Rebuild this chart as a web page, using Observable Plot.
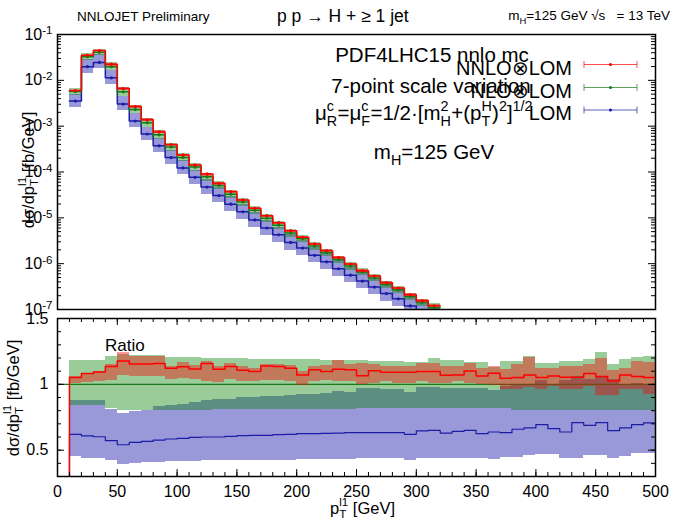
<!DOCTYPE html>
<html>
<head>
<meta charset="utf-8">
<script src="https://cdn.jsdelivr.net/npm/d3@7"></script>
<script src="https://cdn.jsdelivr.net/npm/@observablehq/plot@0.6"></script>
<style>
  body { margin: 0; background: #fff; font-family: "Liberation Sans", Arial, sans-serif; }
  #fig { position: relative; width: 675px; height: 525px; overflow: hidden; }
  #fig > svg { position: absolute; left: 0; }
  .t { position: absolute; white-space: nowrap; color: #000; line-height: 1; }
  .t sub { font-size: .7em; vertical-align: -0.4em; line-height: 0; }
  .t sup { font-size: .7em; vertical-align: 0.6em; line-height: 0; }
  .ss { display: inline-block; position: relative; height: 0; }
  .ss > span { position: absolute; left: 0; font-size: .7em; line-height: 1; }
  .ss > .u { bottom: 0.45em; }
  .ss > .d { bottom: -0.58em; }
</style>
</head>
<body>
<div id="fig"></div>
<script>
// Lower edges of the leading-jet pT bins, GeV (each bin is 10 GeV wide)
const binLow = [0, 10, 20, 30, 40, 50, 60, 70, 80, 90, 100, 110, 120, 130, 140, 150, 160, 170, 180, 190,
  200, 210, 220, 230, 240, 250, 260, 270, 280, 290, 300, 310, 320, 330, 340, 350, 360, 370, 380, 390,
  400, 410, 420, 430, 440, 450, 460, 470, 480, 490];
const binWidth = 10;

// NLO⊗LOM central dσ/dpT [fb/GeV] (first bin empty)
const nlo = [null, 5.69e-3, 3.27e-2, 4.09e-2, 1.98e-2, 5.62e-3, 2.32e-3, 1.19e-3, 6.47e-4, 3.53e-4,
  2.08e-4, 1.28e-4, 7.83e-5, 5.09e-5, 3.29e-5, 2.22e-5, 1.47e-5, 9.8e-6, 6.92e-6, 4.68e-6,
  3.51e-6, 2.43e-6, 1.75e-6, 1.23e-6, 8.87e-7, 6.59e-7, 4.88e-7, 3.52e-7, 2.70e-7, 1.93e-7,
  1.42e-7, 1.10e-7];

// Ratios to NLO⊗LOM central: NNLO⊗LOM central and 7-point scale envelope
const rNNLO = [0, 1.051, 1.082, 1.094, 1.135, 1.178, 1.155, 1.155, 1.158, 1.122, 1.133, 1.117, 1.158, 1.115,
  1.135, 1.107, 1.097, 1.14, 1.135, 1.122, 1.071, 1.11, 1.097, 1.115, 1.11, 1.066, 1.104, 1.092, 1.092,
  1.092, 1.097, 1.097, 1.069, 1.071, 1.102, 1.064, 1.084, 1.046, 1.051, 1.071, 1.051, 1.064, 1.054,
  1.054, 1.082, 1.059, 1.025, 1.071, 1.059, 1.051];
const rNNLOLo = [null, 1.008, 1.013, 1.02, 1.031, 1.064, 1.059, 1.059, 1.059, 1.033, 1.041, 1.033, 1.025,
  1.013, 1.033, 1.02, 1.02, 1.031, 1.031, 1.025, 0.99, 1.02, 1.031, 1.02, 1.025, 0.995, 1.008, 1.02,
  1.008, 1.008, 1.02, 1.008, 1.008, 1.02, 1.008, 0.995, 0.99, 0.957, 0.964, 0.975, 0.957, 0.982, 0.964,
  0.957, 0.982, 0.918, 0.913, 0.957, 0.957, 0.924];
const rNNLOHi = [null, 1.059, 1.085, 1.097, 1.153, 1.24, 1.214, 1.214, 1.214, 1.135, 1.166, 1.143, 1.173,
  1.135, 1.16, 1.135, 1.122, 1.153, 1.148, 1.143, 1.097, 1.135, 1.143, 1.178, 1.153, 1.16, 1.148, 1.135,
  1.135, 1.135, 1.16, 1.16, 1.135, 1.135, 1.16, 1.122, 1.135, 1.109, 1.148, 1.206, 1.117, 1.122, 1.135,
  1.135, 1.148, 1.199, 1.102, 1.122, 1.173, 1.168];

// NLO⊗LOM scale envelope relative to its own central value
const rNLOLo = [null, 0.837, 0.837, 0.837, 0.817, 0.804, 0.80, 0.80, 0.80, 0.80, 0.80, 0.80, 0.80,
  0.811, 0.811, 0.811, 0.811, 0.811, 0.811, 0.811, 0.811, 0.811, 0.811, 0.811, 0.811,
  0.817, 0.817, 0.817, 0.817, 0.817, 0.817, 0.817, 0.817, 0.817, 0.817, 0.817, 0.817, 0.817,
  0.804, 0.804, 0.804, 0.804, 0.804, 0.804, 0.804, 0.804, 0.804, 0.804, 0.804, 0.804];
const rNLOHi = [null, 1.178, 1.178, 1.178, 1.209, 1.224, 1.219, 1.219, 1.219, 1.205, 1.205, 1.205, 1.2,
  1.2, 1.195, 1.195, 1.19, 1.19, 1.19, 1.185, 1.185, 1.185, 1.18, 1.18, 1.18, 1.178, 1.175, 1.175,
  1.175, 1.168, 1.168, 1.199, 1.178, 1.178, 1.168, 1.168, 1.127, 1.173, 1.173, 1.212, 1.16, 1.16,
  1.173, 1.173, 1.186, 1.242, 1.148, 1.19, 1.204, 1.212];

// LOM central and scale envelope, relative to NLO⊗LOM central
const rLO = [0, 0.620, 0.608, 0.602, 0.572, 0.541, 0.559, 0.567, 0.577, 0.585, 0.59, 0.597, 0.60,
  0.60, 0.605, 0.61, 0.613, 0.613, 0.618, 0.62, 0.625, 0.625, 0.628, 0.63, 0.633,
  0.633, 0.633, 0.633, 0.633, 0.62, 0.646, 0.651, 0.63, 0.643, 0.651, 0.625, 0.638, 0.633,
  0.659, 0.669, 0.694, 0.664, 0.638, 0.709, 0.689, 0.709, 0.648, 0.669, 0.694, 0.707];
const rLOLo = [null, 0.455, 0.44, 0.44, 0.42, 0.393, 0.40, 0.41, 0.41, 0.415, 0.415, 0.416, 0.421,
  0.421, 0.421, 0.421, 0.421, 0.421, 0.421, 0.421, 0.43, 0.43, 0.43, 0.43, 0.43,
  0.434, 0.434, 0.434, 0.434, 0.421, 0.434, 0.434, 0.434, 0.434, 0.434, 0.434, 0.43, 0.447,
  0.447, 0.46, 0.465, 0.465, 0.434, 0.434, 0.46, 0.46, 0.44, 0.455, 0.472, 0.472];
const rLOHi = [null, 0.878, 0.878, 0.878, 0.81, 0.776, 0.796, 0.80, 0.83, 0.84, 0.85, 0.86, 0.875,
  0.888, 0.888, 0.898, 0.898, 0.908, 0.908, 0.915, 0.924, 0.924, 0.931, 0.949, 0.94,
  0.97, 0.97, 0.962, 0.962, 0.939, 0.975, 0.975, 0.97, 0.97, 0.97, 0.97, 0.955, 0.985,
  1.0, 1.0, 1.03, 1.0, 1.03, 1.06, 1.04, 1.06, 1.04, 1.0, 1.01, 1.0];

// Axis tick values
const upperDecades = [1e-7, 1e-6, 1e-5, 1e-4, 1e-3, 1e-2, 1e-1];
const ratioTickLabels = [0.5, 1, 1.5];
const xTickLabels = [0, 50, 100, 150, 200, 250, 300, 350, 400, 450, 500];

// Colours
const red = "#ff0000", green = "#1a7a1a", blue = "#1c1ca6";
const redFill = "#ff0000", greenFill = "#008000", blueFill = "#0000a0";

const W = 675, ML = 57, MR = 20;
const plotW = W - ML - MR;

const rows = binLow.map((x1, i) => ({
  x1, x2: x1 + binWidth, xm: x1 + binWidth / 2,
  rNNLO: rNNLO[i], rNNLOLo: rNNLOLo[i], rNNLOHi: rNNLOHi[i],
  rNLOLo: rNLOLo[i], rNLOHi: rNLOHi[i],
  rLO: rLO[i], rLOLo: rLOLo[i], rLOHi: rLOHi[i],
  nlo: nlo[i] ?? null
}));

// absolute distributions for the upper panel
const up = rows.filter(d => d.nlo != null).map(d => ({
  ...d,
  nnlo: d.nlo * d.rNNLO, nnloLo: d.nlo * d.rNNLOLo, nnloHi: d.nlo * d.rNNLOHi,
  nloLo: d.nlo * d.rNLOLo, nloHi: d.nlo * d.rNLOHi,
  lo: d.nlo * d.rLO, loLo: d.nlo * d.rLOLo, loHi: d.nlo * d.rLOHi
}));
const bands = rows.filter(d => d.rNNLOLo != null);

// histogram outline: one point per bin edge, drawn with a step-after curve
function steps(data, key) {
  const pts = data.map(d => ({x: d.x1, y: d[key]}));
  const last = data[data.length - 1];
  pts.push({x: last.x2, y: last[key]});
  return pts;
}

function inwardTicks(dim, values, len, plotSize) {
  if (dim === "x") return [
    Plot.tickX(values, {x: d => d, insetTop: plotSize - len, stroke: "#000"}),
    Plot.tickX(values, {x: d => d, insetBottom: plotSize - len, stroke: "#000"})
  ];
  return [
    Plot.tickY(values, {y: d => d, insetRight: plotW - len, stroke: "#000"}),
    Plot.tickY(values, {y: d => d, insetLeft: plotW - len, stroke: "#000"})
  ];
}

const band = (data, y1, y2, fill) =>
  Plot.rect(data, {x1: "x1", x2: "x2", y1, y2, fill, fillOpacity: 0.4, shapeRendering: "crispEdges", clip: true});

const style = {fontFamily: "Liberation Sans, Arial, sans-serif", fontSize: "16px", background: "transparent", overflow: "visible", color: "#000"};

// ---- upper panel: absolute distributions ----
const upperH = 312, upperMT = 34, upperMB = 3;
const upperMinor = [];
for (let k = -7; k <= -2; k++) for (let m = 2; m <= 9; m++) upperMinor.push(m * Math.pow(10, k));

const upperSeries = [
  {lo: "loLo", hi: "loHi", c: "lo", stroke: blue, fill: blueFill},
  {lo: "nloLo", hi: "nloHi", c: "nlo", stroke: green, fill: greenFill},
  {lo: "nnloLo", hi: "nnloHi", c: "nnlo", stroke: red, fill: redFill}
];

const upper = Plot.plot({
  width: W, height: upperH,
  marginTop: upperMT, marginBottom: upperMB, marginLeft: ML, marginRight: MR,
  style,
  x: {domain: [0, 500], axis: null},
  y: {type: "log", domain: [1e-7, 1e-1], axis: null},
  marks: [
    ...upperSeries.flatMap(s => [
      band(up, s.lo, s.hi, s.fill),
      Plot.line(steps(up, s.c), {x: "x", y: "y", curve: "step-after", stroke: s.stroke, strokeWidth: 1.5, clip: true}),
      Plot.dot(up, {x: "xm", y: s.c, r: 1.6, fill: s.stroke, stroke: null, clip: true})
    ]),
    Plot.axisY(upperDecades, {tickSize: 0, tickPadding: 5, fontSize: 16,
      tickFormat: d => String(Math.round(Math.log10(d)))}),
    ...inwardTicks("y", upperDecades, 7, 0),
    ...inwardTicks("y", upperMinor, 4, 0),
    Plot.frame({stroke: "#000", strokeWidth: 1.5})
  ]
});
upper.style.top = "0px";

// exponent labels: 10 with a raised power
d3.select(upper).selectAll('g[aria-label="y-axis tick label"] text').each(function () {
  const e = this.textContent;
  const t = d3.select(this);
  t.text("10");
  t.append("tspan").attr("dy", "-0.45em").attr("font-size", "0.72em").text(e);
});

// ---- lower panel: ratio to NLO⊗LOM ----
const lowerTop = 312, lowerH = 213, lowerMT = 6, lowerMB = 49;
const lowerPlotH = lowerH - lowerMT - lowerMB;
const ratioMinor = d3.range(3, 16).map(v => v / 10);
const xMinor = d3.range(0, 501, 10);

const lower = Plot.plot({
  width: W, height: lowerH,
  marginTop: lowerMT, marginBottom: lowerMB, marginLeft: ML, marginRight: MR,
  style,
  x: {domain: [0, 500], axis: null},
  y: {domain: [0.3, 1.5], axis: null},
  marks: [
    band(bands, "rLOLo", "rLOHi", blueFill),
    Plot.line(steps(rows, "rLO"), {x: "x", y: "y", curve: "step-after", stroke: blue, strokeWidth: 1.2, clip: true}),
    band(bands, "rNLOLo", "rNLOHi", greenFill),
    Plot.ruleY([1], {stroke: green, strokeWidth: 1.2}),
    band(bands, "rNNLOLo", "rNNLOHi", redFill),
    Plot.line(steps(rows, "rNNLO"), {x: "x", y: "y", curve: "step-after", stroke: red, strokeWidth: 1.5, clip: true}),
    Plot.axisY(ratioTickLabels, {tickSize: 0, tickPadding: 9, fontSize: 16, tickFormat: d => String(d)}),
    Plot.axisX(xTickLabels, {tickSize: 0, tickPadding: 9, fontSize: 16, tickFormat: d => String(d)}),
    ...inwardTicks("x", xMinor, 4, lowerPlotH),
    ...inwardTicks("x", xTickLabels, 7, lowerPlotH),
    ...inwardTicks("y", ratioMinor, 4, 0),
    ...inwardTicks("y", ratioTickLabels, 7, 0),
    Plot.frame({stroke: "#000", strokeWidth: 1.5})
  ]
});
lower.style.top = lowerTop + "px";

const fig = document.getElementById("fig");
fig.appendChild(upper);
fig.appendChild(lower);

// ---- text ----
const ss = (u, d, w) => `<span class="ss" style="width:${w}em"><span class="u">${u}</span><span class="d">${d}</span></span>`;

function put(html, x, baseline, size, anchor = "start") {
  const el = document.createElement("div");
  el.className = "t";
  el.innerHTML = html;
  el.style.fontSize = size + "px";
  el.style.left = x + "px";
  el.style.top = (baseline - 0.846 * size) + "px";
  const k = anchor === "middle" ? -50 : anchor === "end" ? -100 : 0;
  el.style.transform = `translateX(${k}%)`;
  fig.appendChild(el);
  return el;
}
function putRotated(html, cx, cy, size) {
  const el = document.createElement("div");
  el.className = "t";
  el.innerHTML = html;
  el.style.fontSize = size + "px";
  el.style.left = cx + "px";
  el.style.top = cy + "px";
  el.style.transform = "translate(-50%, -50%) rotate(-90deg)";
  fig.appendChild(el);
  return el;
}

put("NNLOJET Preliminary", 77, 21, 13.5);
put("p p → H + ≥ 1 jet", 277, 23, 17.5);
put("m<sub>H</sub>=125 GeV √s&nbsp;&nbsp; = 13 TeV", 670, 20, 13.5, "end");

put("PDF4LHC15 nnlo mc", 432, 62, 20.5, "middle");
put("7-point scale variation", 431, 93, 20.5, "middle");
put(`μ${ss("c", "R", 0.52)}=μ${ss("c", "F", 0.45)}=1/2·[m${ss("2", "H", 0.52)}+(p${ss("H", "T", 0.52)})<sup>2</sup>]<sup>1/2</sup>`, 315, 120, 20.5);
put("m<sub>H</sub>=125 GeV", 434, 159, 20.5, "middle");

const legend = [
  {label: "NNLO⊗LOM", color: red, baseline: 75, y: 64.5},
  {label: "NLO⊗LOM", color: green, baseline: 98, y: 87.5},
  {label: "LOM", color: blue, baseline: 120, y: 110}
];
legend.forEach(l => put(l.label, 572, l.baseline, 20, "end"));

const key = d3.select(fig).append("svg")
  .attr("width", W).attr("height", 525)
  .style("top", "0px").style("pointer-events", "none");
legend.forEach(l => {
  const g = key.append("g").attr("stroke", l.color).attr("stroke-width", 1).attr("stroke-opacity", 0.7);
  g.append("line").attr("x1", 584).attr("x2", 637).attr("y1", l.y).attr("y2", l.y);
  g.append("line").attr("x1", 584).attr("x2", 584).attr("y1", l.y - 3.5).attr("y2", l.y + 3.5);
  g.append("line").attr("x1", 637).attr("x2", 637).attr("y1", l.y - 3.5).attr("y2", l.y + 3.5);
  key.append("circle").attr("cx", 610.5).attr("cy", l.y).attr("r", 1.6).attr("fill", l.color);
});

put("Ratio", 105, 351, 17);

const yTitle = `dσ/dp${ss("l1", "T", 0.55)} [fb/GeV]`;
putRotated(yTitle, 28, 170, 16.5);
putRotated(yTitle, 13, 398, 16.5);
put(`p${ss("l1", "T", 0.55)} [GeV]`, 330, 514, 16.5);
</script>
</body>
</html>
